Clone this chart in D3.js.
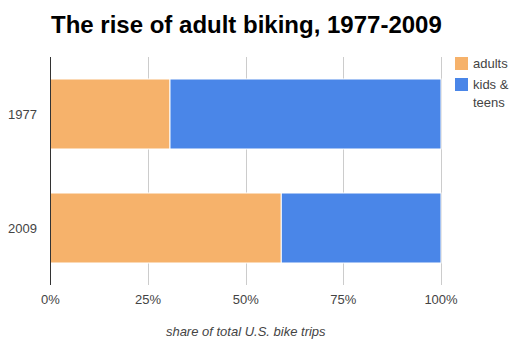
<!DOCTYPE html>
<html>
<head>
<meta charset="utf-8">
<script src="https://cdn.jsdelivr.net/npm/d3@7"></script>
<style>
  body { margin: 0; background: #fff; }
  text { font-family: Arial, "Liberation Sans", sans-serif; }
</style>
</head>
<body>
<div id="chart"></div>
<script>
const years = ["1977", "2009"];
const series = ["adults", "kids & teens"];
const adults = [30.6, 59.1];
const kids = [69.4, 40.9];
const ticks = [0, 25, 50, 75, 100];
const colors = ["#f6b26b", "#4a86e8"];

const SIZE = {width: 523, height: 351};
const MARGIN = {left: 50.5, right: 82, top: 57, bottom: 66};

const svg = d3.select("#chart").append("svg")
    .attr("width", SIZE.width)
    .attr("height", SIZE.height);

const x = d3.scaleLinear().domain([0, 100])
    .range([MARGIN.left, SIZE.width - MARGIN.right]);
const y = d3.scaleBand().domain(years)
    .range([MARGIN.top, SIZE.height - MARGIN.bottom])
    .paddingInner(0.386).paddingOuter(0.193);

// title
svg.append("text")
    .attr("x", 51).attr("y", 32.5)
    .attr("font-size", 24).attr("font-weight", "bold")
    .attr("fill", "#000")
    .text("The rise of adult biking, 1977-2009");

// gridlines
svg.append("g").selectAll("line").data(ticks.slice(1)).join("line")
    .attr("x1", d => Math.round(x(d)) + 0.5).attr("x2", d => Math.round(x(d)) + 0.5)
    .attr("y1", MARGIN.top).attr("y2", SIZE.height - MARGIN.bottom)
    .attr("stroke", "#ccc");

// stacked bars
const stacked = d3.stack().keys([0, 1])(years.map((yr, i) => [adults[i], kids[i]]));
svg.append("g").selectAll("g").data(stacked).join("g")
    .attr("fill", (d, i) => colors[i])
    .selectAll("rect").data(d => d).join("rect")
    .attr("x", d => x(d[0]))
    .attr("y", (d, i) => y(years[i]))
    .attr("width", d => x(d[1]) - x(d[0]))
    .attr("height", y.bandwidth())
    .attr("stroke", "#fff").attr("stroke-width", 1);

// baseline
svg.append("line")
    .attr("x1", x(0)).attr("x2", x(0))
    .attr("y1", MARGIN.top).attr("y2", SIZE.height - MARGIN.bottom)
    .attr("stroke", "#333");

// x tick labels
svg.append("g").selectAll("text").data(ticks).join("text")
    .attr("x", d => x(d)).attr("y", 304)
    .attr("text-anchor", "middle").attr("font-size", 13).attr("fill", "#444")
    .text(d => d + "%");

// y labels
svg.append("g").selectAll("text").data(years).join("text")
    .attr("x", 37).attr("y", d => y(d) + y.bandwidth() / 2 + 5)
    .attr("text-anchor", "end").attr("font-size", 13).attr("fill", "#444")
    .text(d => d);

// axis title
svg.append("text")
    .attr("x", (x(0) + x(100)) / 2).attr("y", 336)
    .attr("text-anchor", "middle").attr("font-size", 13)
    .attr("font-style", "italic").attr("fill", "#444")
    .text("share of total U.S. bike trips");

// legend
const legend = svg.append("g").selectAll("g").data(series).join("g")
    .attr("transform", (d, i) => `translate(455, ${57 + i * 21})`);
legend.append("rect")
    .attr("width", 13).attr("height", 13)
    .attr("fill", (d, i) => colors[i]);
legend.append("text")
    .attr("x", 18).attr("y", 11)
    .attr("font-size", 13).attr("fill", "#444")
    .selectAll("tspan").data(d => d === "kids & teens" ? ["kids &", "teens"] : [d]).join("tspan")
    .attr("x", 18).attr("dy", (d, i) => i ? 18 : 0)
    .text(d => d);
</script>
</body>
</html>
